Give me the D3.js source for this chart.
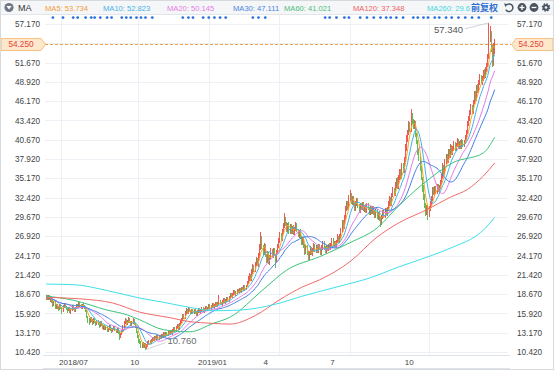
<!DOCTYPE html>
<html><head><meta charset="utf-8">
<script src="https://cdn.jsdelivr.net/npm/d3@7"></script>
<style>
html,body{margin:0;padding:0;background:#fff;}
svg{display:block;}
</style></head><body>
<svg id="c" width="554" height="370"></svg>
<script>
// ---------------- data ----------------
const opens = [
18.1,18.4,18.0,18.5,17.8,18.1,17.7,17.1,17.6,16.8,
17.2,16.9,16.5,17.1,16.8,16.2,16.8,17.3,16.9,16.7,
16.3,16.8,16.1,16.4,17.0,16.7,16.2,16.7,17.2,16.8,
17.4,17.1,16.7,17.3,17.0,16.7,16.3,15.5,15.1,14.7,
15.3,15.0,14.5,15.1,14.8,14.3,14.9,14.6,14.1,14.7,
14.3,13.8,14.2,13.6,14.0,13.4,13.7,14.1,13.7,13.3,
13.6,14.0,13.6,13.2,13.7,13.3,12.6,12.9,13.4,14.0,
14.6,15.0,14.4,14.7,15.2,14.8,14.2,14.5,15.0,14.5,
14.0,13.2,12.7,12.0,11.9,11.2,11.7,11.1,11.6,10.9,
11.4,11.7,12.1,11.6,12.0,12.5,12.1,12.6,12.2,12.7,
12.3,12.8,12.4,12.9,12.5,13.1,12.7,13.2,12.8,13.3,
12.9,13.4,13.0,13.4,13.9,13.3,13.8,14.3,13.7,14.3,
14.7,15.0,15.7,15.2,15.9,16.5,16.0,16.6,16.3,15.9,
16.4,16.0,16.5,16.1,15.7,16.1,16.6,16.0,16.2,16.7,
16.1,16.4,16.9,16.3,16.6,17.1,16.5,16.8,17.3,16.7,
17.0,17.5,16.9,17.2,17.8,17.5,17.1,17.5,18.0,17.4,
17.7,18.2,17.7,18.1,18.7,18.2,18.6,19.1,18.5,18.8,
19.3,18.9,19.5,19.0,19.6,19.2,19.8,19.3,19.8,20.2,
20.8,21.5,20.7,21.8,22.6,21.9,22.9,23.7,22.8,24.0,
25.2,26.7,25.5,24.5,25.6,24.2,23.4,24.5,23.1,23.9,
24.9,24.0,25.1,24.2,23.5,24.6,25.4,26.3,27.2,26.4,
27.5,28.3,29.4,28.7,27.7,28.6,27.5,28.4,27.4,28.2,
27.3,27.9,28.6,27.8,26.9,27.7,26.9,25.8,26.6,25.6,
24.6,25.4,24.6,23.8,24.5,25.3,24.3,24.9,25.7,24.8,
25.5,24.7,25.6,25.2,24.5,25.2,26.0,25.3,24.7,25.5,
24.9,25.7,25.1,25.7,26.4,25.6,26.1,25.4,26.0,26.9,
26.1,26.9,27.7,29.0,28.2,29.5,30.7,31.6,30.9,32.2,
32.9,31.7,32.4,31.6,30.7,31.5,32.2,31.3,30.5,31.5,
30.8,31.6,30.6,31.3,30.4,31.4,30.9,30.1,31.0,30.3,
31.1,30.4,29.7,30.6,29.5,30.3,29.5,28.8,29.6,30.5,
29.7,30.7,30.0,30.8,31.5,32.3,31.4,32.7,33.6,32.8,
34.1,34.9,33.9,35.2,36.2,35.3,37.1,36.2,37.7,39.4,
40.7,41.5,42.9,42.0,44.1,43.3,42.4,43.2,41.3,40.4,
38.9,38.1,36.6,35.1,33.7,32.6,31.3,30.3,31.1,30.0,
30.7,31.5,32.2,33.6,32.9,33.9,33.1,34.1,33.3,33.8,
34.5,35.3,36.9,35.9,37.4,38.4,37.5,39.1,38.3,39.7,
38.7,39.3,40.2,39.2,39.8,40.6,39.6,40.3,39.5,40.5,
39.8,40.2,40.8,41.7,42.8,43.5,44.4,45.4,44.5,45.9,
47.3,46.4,48.2,47.5,48.7,49.7,48.8,49.3,50.3,49.7,
50.5,51.3,52.5,55.4,55.9,53.7,51.5,53.3];

const highs = [
18.6,18.5,18.6,18.6,18.2,18.2,17.8,17.7,17.7,17.3,
17.3,17.0,17.2,17.2,16.9,17.1,17.4,17.4,17.0,16.8,
16.9,16.9,16.7,17.1,17.1,16.8,16.9,17.3,17.3,17.5,
17.5,17.2,17.3,17.4,17.1,16.8,16.4,15.6,15.3,15.4,
15.4,15.1,15.2,15.2,14.9,15.0,15.0,14.7,14.8,14.8,
14.4,14.3,14.3,14.1,14.1,13.9,14.2,14.2,13.8,13.9,
14.1,14.1,13.7,13.8,13.8,13.4,13.1,13.6,14.2,14.9,
15.3,15.1,15.0,15.4,15.3,14.9,14.8,15.2,15.1,14.6,
14.1,13.4,12.8,12.3,12.0,11.8,11.8,11.7,11.7,11.6,
12.0,12.2,12.2,12.3,12.6,12.6,12.7,12.7,12.8,12.8,
12.9,12.9,13.0,13.0,13.2,13.2,13.3,13.3,13.4,13.4,
13.5,13.5,13.7,14.0,14.0,14.1,14.4,14.4,14.6,15.0,
15.3,15.9,15.8,16.2,16.7,16.6,16.8,16.7,16.4,16.5,
16.5,16.6,16.6,16.2,16.4,16.7,16.7,16.5,16.8,16.8,
16.7,17.0,17.0,16.9,17.2,17.2,17.1,17.4,17.4,17.3,
17.6,17.6,17.5,18.5,17.9,17.6,17.8,18.1,18.1,18.0,
18.3,18.3,18.4,18.8,18.8,18.9,19.2,19.2,19.1,19.4,
19.4,19.6,19.6,19.7,19.7,19.9,19.9,20.0,20.5,21.2,
21.7,21.6,22.2,22.9,22.8,23.3,24.0,23.8,24.5,25.8,
27.5,26.9,25.7,25.9,25.8,24.4,24.8,24.7,24.3,25.2,
25.1,25.3,25.3,24.4,24.9,25.8,26.7,27.5,27.4,28.0,
28.8,30.2,29.6,28.9,28.8,28.9,28.6,28.6,28.4,28.5,
28.3,28.9,28.8,28.0,27.8,27.9,27.0,26.8,26.8,25.8,
25.6,25.6,24.8,24.8,25.5,25.4,25.2,25.9,25.8,25.7,
25.6,25.8,25.8,25.3,25.6,26.3,26.2,25.5,25.7,25.7,
25.8,25.9,26.0,26.6,26.6,26.3,26.3,26.4,27.2,27.0,
27.3,28.1,29.3,29.2,29.9,31.2,32.0,31.9,32.8,33.5,
33.1,32.6,32.7,31.8,31.9,32.4,32.4,31.5,31.7,31.7,
31.8,31.8,31.4,31.5,31.6,31.6,31.1,31.2,31.2,31.3,
31.2,30.6,30.8,30.8,30.4,30.5,29.7,29.9,30.7,30.7,
30.9,30.9,31.1,31.9,32.6,32.5,33.1,33.9,33.8,34.6,
35.2,35.3,35.6,36.5,36.5,37.4,37.4,38.2,40.0,41.3,
42.0,43.3,43.2,45.0,44.5,43.6,43.5,43.4,41.6,40.7,
39.3,38.6,37.0,35.4,34.2,32.9,31.6,31.4,31.5,31.2,
31.9,32.6,33.9,33.9,34.1,34.1,34.3,34.3,34.2,34.9,
35.8,37.3,37.1,37.9,38.7,38.6,39.4,39.3,40.0,39.9,
39.8,40.5,40.4,40.2,40.9,40.8,40.5,40.6,40.8,40.7,
40.6,41.3,42.1,43.3,44.0,44.9,45.8,45.6,46.4,47.6,
47.6,48.5,48.6,49.2,50.0,49.9,49.8,50.6,50.7,51.0,
51.6,52.9,57.34,56.9,56.2,54.2,54.5,55.1];

const lows = [
17.9,17.9,17.8,17.8,17.6,17.4,16.9,17.0,16.6,16.6,
16.6,16.2,16.4,16.5,15.9,16.1,16.7,16.7,16.4,16.0,
16.2,16.0,15.9,16.3,16.4,16.1,16.1,16.6,16.7,16.7,
16.9,16.6,16.6,16.8,16.5,16.1,15.2,14.6,14.2,14.6,
14.7,14.3,14.4,14.5,14.1,14.2,14.3,13.9,14.0,14.1,
13.7,13.6,13.5,13.5,13.3,13.3,13.6,13.4,13.1,13.2,
13.5,13.4,13.1,13.1,13.0,12.1,12.4,12.8,13.3,13.9,
14.4,14.3,14.3,14.6,14.5,14.1,14.1,14.4,14.2,13.8,
13.1,12.4,11.7,11.5,11.0,11.0,11.0,11.0,10.76,10.8,
11.2,11.5,11.5,11.5,11.9,12.0,12.0,12.1,12.1,12.2,
12.2,12.3,12.3,12.4,12.4,12.6,12.6,12.7,12.7,12.8,
12.8,13.0,12.9,13.3,13.2,13.2,13.7,13.6,13.6,14.2,
14.6,14.9,15.1,15.1,15.8,15.9,15.9,16.1,15.8,15.8,
15.9,15.9,15.9,15.6,15.6,16.0,16.0,15.9,16.1,16.1,
16.0,16.3,16.3,16.2,16.5,16.5,16.4,16.7,16.7,16.6,
16.9,16.9,16.8,17.1,17.3,17.1,17.0,17.4,17.4,17.3,
17.6,17.7,17.6,18.0,18.2,18.1,18.5,18.5,18.4,18.7,
18.8,18.8,19.0,18.9,19.2,19.1,19.3,19.2,19.7,20.1,
20.6,20.6,20.5,21.6,21.8,21.8,22.7,22.7,22.6,23.8,
25.0,25.1,24.2,24.2,24.0,23.1,23.1,22.9,22.8,23.7,
23.9,23.8,24.1,22.4,23.3,24.4,25.2,26.0,26.2,26.2,
27.3,28.1,28.4,27.5,27.5,27.3,27.3,27.2,27.2,27.1,
27.1,27.7,27.5,26.8,26.7,26.5,25.6,25.6,25.2,24.3,
24.4,24.3,23.5,23.6,24.3,24.2,24.1,24.7,24.7,24.6,
24.5,24.5,24.9,24.3,24.3,25.0,25.0,24.5,24.5,24.8,
24.8,25.0,24.9,25.5,25.5,25.4,25.3,25.3,25.9,26.0,
26.0,26.7,27.5,28.0,28.0,29.3,30.5,30.7,30.6,31.9,
31.5,31.4,31.2,30.5,30.5,31.2,31.0,30.3,30.3,30.6,
30.6,30.5,30.4,30.2,30.2,30.6,29.9,29.9,30.1,30.1,
30.0,29.5,29.5,29.4,29.3,29.1,28.2,28.5,29.4,29.5,
29.5,29.9,29.8,30.6,31.3,31.3,31.2,32.5,32.6,32.6,
33.8,33.7,33.7,34.9,35.0,35.1,36.0,36.0,37.5,39.1,
40.4,41.3,41.8,41.8,42.9,42.2,42.2,41.0,40.0,38.5,
37.6,36.2,34.9,33.2,32.1,30.9,29.8,29.9,29.2,29.6,
30.5,31.3,32.0,32.8,32.7,33.0,32.9,33.2,33.1,33.6,
34.3,35.1,35.7,35.7,37.2,37.3,37.3,38.1,38.1,38.5,
38.5,39.1,39.1,39.0,39.6,39.5,39.4,39.4,39.3,39.7,
39.6,40.0,40.6,41.5,42.6,43.3,44.2,44.3,44.3,45.7,
46.2,46.2,47.3,47.3,48.5,48.6,48.5,49.1,49.4,49.5,
50.3,51.0,52.2,54.6,53.2,51.0,51.2,52.9];

const closes = [
18.3,18.1,18.4,17.9,18.0,17.6,17.2,17.5,16.9,17.1,
16.8,16.5,17.0,16.7,16.3,16.9,17.2,16.8,16.6,16.4,
16.7,16.2,16.5,16.9,16.6,16.3,16.8,17.1,16.9,17.3,
17.0,16.8,17.2,16.9,16.6,16.2,15.4,15.0,14.8,15.2,
14.9,14.6,15.0,14.7,14.4,14.8,14.5,14.2,14.6,14.3,
13.9,14.1,13.7,13.9,13.5,13.8,14.0,13.6,13.4,13.7,
13.9,13.5,13.3,13.6,13.2,12.8,12.9,13.4,14.0,14.6,
14.9,14.5,14.8,15.1,14.7,14.3,14.6,14.9,14.4,14.0,
13.3,12.6,12.0,11.8,11.3,11.6,11.2,11.5,11.0,11.4,
11.8,12.0,11.7,12.1,12.4,12.2,12.5,12.3,12.6,12.4,
12.7,12.5,12.8,12.6,13.0,12.8,13.1,12.9,13.2,13.0,
13.3,13.1,13.5,13.8,13.4,13.9,14.2,13.8,14.4,14.7,
15.1,15.6,15.3,16.0,16.4,16.1,16.5,16.2,16.0,16.3,
16.1,16.4,16.0,15.8,16.2,16.5,16.1,16.3,16.6,16.2,
16.5,16.8,16.4,16.7,17.0,16.6,16.9,17.2,16.8,17.1,
17.4,17.0,17.3,17.7,17.4,17.2,17.6,17.9,17.5,17.8,
18.1,17.8,18.2,18.6,18.3,18.7,19.0,18.6,18.9,19.2,
19.0,19.4,19.1,19.5,19.3,19.7,19.4,19.8,20.3,20.9,
21.4,20.8,21.9,22.5,22.0,23.0,23.6,22.9,24.2,25.3,
26.6,25.4,24.6,25.5,24.3,23.5,24.4,23.2,24.0,24.8,
24.1,25.0,24.3,23.6,24.7,25.5,26.4,27.1,26.5,27.6,
28.4,29.3,28.6,27.8,28.5,27.6,28.3,27.5,28.1,27.4,
28.0,28.5,27.7,27.0,27.6,26.8,25.9,26.5,25.5,24.7,
25.3,24.5,23.9,24.6,25.2,24.4,25.0,25.6,24.9,25.4,
24.8,25.5,25.1,24.6,25.3,25.9,25.2,24.8,25.4,25.0,
25.6,25.2,25.8,26.3,25.7,26.0,25.5,26.1,26.8,26.2,
27.0,27.8,28.9,28.3,29.6,30.8,31.5,31.0,32.4,33.0,
31.8,32.3,31.5,30.8,31.6,32.1,31.2,30.6,31.4,30.9,
31.5,30.7,31.2,30.5,31.3,30.8,30.2,30.9,30.4,31.0,
30.3,29.8,30.5,29.6,30.2,29.4,28.9,29.7,30.4,29.8,
30.6,30.1,30.9,31.6,32.2,31.5,32.8,33.5,32.9,34.2,
34.8,34.0,35.3,36.1,35.4,37.0,36.3,37.8,39.5,40.8,
41.6,42.8,42.1,44.0,43.2,42.5,43.1,41.2,40.3,38.8,
38.0,36.5,35.2,33.6,32.5,31.2,30.4,31.0,30.1,30.8,
31.6,32.3,33.5,33.0,33.8,33.2,34.0,33.4,33.9,34.6,
35.4,36.8,36.0,37.5,38.3,37.6,39.0,38.4,39.6,38.8,
39.4,40.1,39.3,39.9,40.5,39.7,40.2,39.6,40.4,39.9,
40.3,40.9,41.8,42.9,43.6,44.5,45.3,44.6,46.0,47.2,
46.5,48.1,47.6,48.8,49.6,48.9,49.4,50.2,49.8,50.6,
51.2,52.4,55.5,55.8,53.6,51.6,53.4,54.25];

// long moving averages (candle index -> value)
const ma60Idx  = [0,24,54,72,83,104,127,148,163,192,213,242,269,293,313,340,360,387,397];
const ma60Val  = [18.4,17.8,16.4,15.7,15.0,13.6,13.3,14.5,15.4,19.3,22.1,24.0,26.0,28.1,31.4,35.2,37.4,38.8,41.02];
const ma120Idx = [0,30,59,83,110,125,148,163,185,207,227,242,269,293,313,337,358,373,387,397];
const ma120Val = [18.2,18.0,17.4,16.1,15.3,14.8,14.5,14.4,15.6,17.9,19.7,20.7,23.3,26.8,28.9,30.7,32.5,33.6,35.5,37.35];
const ma260Idx = [0,26,48,83,104,130,148,172,207,225,260,287,313,340,362,380,389,397];
const ma260Val = [20.1,20.0,19.4,18.1,17.5,16.7,16.3,16.4,17.4,18.3,19.8,21.0,22.6,24.1,25.5,26.9,28.1,29.6];

const maNames   = ["MA5","MA10","MA20","MA30","MA60","MA120","MA260"];
const maLegend  = ["53.734","52.823","50.145","47.111","41.021","37.348","29.6"];
const maColors  = ["#f5a623","#3db5ea","#e27ae6","#3f80e2","#3cc37a","#f26a6a","#3fe0ea"];
const maText    = ["#f29c38","#4ab3e6","#e57ce5","#4a86df","#4dbd7e","#ef6363","#45d6df"];

const yTicks = [10.42,13.17,15.92,18.67,21.42,24.17,26.92,29.67,32.42,35.17,37.92,40.67,43.42,46.17,48.92,51.67,54.42,57.17];
const xTickIdx = [12,75,135,193,252,318];
const xTickLabels = ["2018/07","10","2019/01","4","7","10"];
const gridIdx = [13,81,144,206,269,339];
const eventIdx = [6,15,24,28,35,40,43,48,54,58,67,71,75,80,84,88,94,121,126,130,139,144,149,154,159,183,188,194,
  247,251,257,264,268,278,284,290,296,301,305,310,316,325,329,334,338,344,348,354,359,365,371,377,383,394];
const lastPrice = 54.25;
const maxPt = {idx:392, val:57.34};
const minPt = {idx:88, val:10.76};

// ---------------- drawing ----------------
const FONT = '"Liberation Sans", Arial, sans-serif';
const W = 554, H = 370;
const svg = d3.select("#c").attr("font-family", FONT);
const N = closes.length;
const x = d3.scaleBand().domain(d3.range(N)).range([45.5, 495.2]).paddingInner(0);
const cx = i => x(i) + x.bandwidth()/2;
const y = d3.scaleLinear().domain([10.42, 57.17]).range([352, 24]);

svg.append("rect").attr("width", W).attr("height", H).attr("fill", "#fff");

// header bar
svg.append("rect").attr("x",0).attr("y",0).attr("width",W).attr("height",14.5).attr("fill","#f5f6f8");
svg.append("line").attr("x1",0).attr("x2",W).attr("y1",14.5).attr("y2",14.5).attr("stroke","#e2e5e9");

// grid
const grid = svg.append("g").attr("stroke","#edf0f4").attr("stroke-width",1).attr("shape-rendering","crispEdges");
grid.selectAll("line.h").data(yTicks).join("line").attr("class","h")
  .attr("x1",45).attr("x2",508).attr("y1",d=>Math.round(y(d))+0.5).attr("y2",d=>Math.round(y(d))+0.5);
grid.selectAll("line.v").data(gridIdx).join("line").attr("class","v")
  .attr("x1",d=>Math.round(cx(d))+0.5).attr("x2",d=>Math.round(cx(d))+0.5).attr("y1",15).attr("y2",355);

// axes (the tick hidden behind the last-price tag is not labelled)
const shown = yTicks.filter(v => Math.abs(v - lastPrice) > 1);
const axL = d3.axisLeft(y).tickValues(shown).tickSize(0).tickPadding(0).tickFormat(d3.format(".3f"));
const axR = d3.axisRight(y).tickValues(shown).tickSize(0).tickPadding(0).tickFormat(d3.format(".3f"));
svg.append("g").attr("transform","translate(40,0)").call(axL)
  .call(g=>g.select(".domain").remove())
  .attr("font-family",FONT).attr("font-size",8.2)
  .selectAll("text").attr("fill","#444");
svg.append("g").attr("transform","translate(517,0)").call(axR)
  .call(g=>g.select(".domain").remove())
  .attr("font-family",FONT).attr("font-size",8.2)
  .selectAll("text").attr("fill","#444");

// x axis band
svg.append("line").attr("x1",43).attr("x2",510).attr("y1",355.5).attr("y2",355.5).attr("stroke","#dfe3e8");
svg.append("line").attr("x1",43).attr("x2",510).attr("y1",368.5).attr("y2",368.5).attr("stroke","#dfe3e8");
svg.selectAll("text.xl").data(xTickIdx).join("text").attr("class","xl")
  .attr("x",d=>x(d)).attr("y",365).attr("font-size",8).attr("fill","#444")
  .text((d,i)=>xTickLabels[i]);

// candles
const up = i => closes[i] >= opens[i];
const colUp = "#f35656", colDn = "#66bd55";
const cg = svg.append("g").attr("shape-rendering","crispEdges");
cg.selectAll("line").data(d3.range(N)).join("line")
  .attr("x1",i=>Math.floor(cx(i))+0.5).attr("x2",i=>Math.floor(cx(i))+0.5)
  .attr("y1",i=>y(highs[i])).attr("y2",i=>y(lows[i]))
  .attr("stroke",i=>up(i)?colUp:colDn).attr("stroke-width",1);
cg.selectAll("rect").data(d3.range(N)).join("rect")
  .attr("x",i=>Math.floor(cx(i))).attr("width",1.3)
  .attr("y",i=>y(Math.max(opens[i],closes[i])))
  .attr("height",i=>Math.max(1, y(Math.min(opens[i],closes[i])) - y(Math.max(opens[i],closes[i]))))
  .attr("fill",i=>up(i)?colUp:colDn);

// moving averages
function ma(n){ return closes.map((c,i)=>d3.mean(closes.slice(Math.max(0,i-n+1), i+1))); }
const shortMA = [ma(5), ma(10), ma(20), ma(30)];
const lineIdx = d3.line().x((d,i)=>cx(i)).y(d=>y(d));
const mg = svg.append("g").attr("fill","none").attr("stroke-width",1);
shortMA.forEach((arr,k)=>{
  mg.append("path").attr("d", lineIdx(arr)).attr("stroke", maColors[k]);
});
const longs = [[ma60Idx,ma60Val],[ma120Idx,ma120Val],[ma260Idx,ma260Val]];
const lineS = d3.line().x(d=>cx(d[0])).y(d=>y(d[1])).curve(d3.curveMonotoneX);
longs.forEach((p,k)=>{
  mg.append("path").attr("d", lineS(d3.zip(p[0],p[1]))).attr("stroke", maColors[4+k]);
});

// last price line
const yp = y(lastPrice);
svg.append("line").attr("x1",45).attr("x2",511).attr("y1",yp).attr("y2",yp)
  .attr("stroke","#f0a040").attr("stroke-width",1).attr("stroke-dasharray","3,2");
svg.append("path").attr("d",`M1,${yp-6}H41L45.5,${yp}L41,${yp+6}H1Z`)
  .attr("fill","#fde8cc").attr("stroke","#f2b26a").attr("stroke-width",0.8);
svg.append("text").attr("x",21).attr("y",yp+3).attr("text-anchor","middle")
  .attr("font-size",8.2).attr("fill","#e8403a").text(lastPrice.toFixed(3));
svg.append("path").attr("d",`M553,${yp-6}H516L511.5,${yp}L516,${yp+6}H553Z`)
  .attr("fill","#fde8cc").attr("stroke","#f2b26a").attr("stroke-width",0.8);
svg.append("text").attr("x",531).attr("y",yp+3).attr("text-anchor","middle")
  .attr("font-size",8.2).attr("fill","#e8403a").text(lastPrice.toFixed(3));

// max / min annotations
const mx = cx(maxPt.idx), my = y(maxPt.val);
svg.append("line").attr("x1",mx).attr("y1",my).attr("x2",465).attr("y2",my+6).attr("stroke","#c4c8cc").attr("stroke-width",0.8);
svg.append("text").attr("x",463).attr("y",my+10).attr("text-anchor","end").attr("font-size",9.5).attr("fill","#555").text(maxPt.val.toFixed(3));
const nx = cx(minPt.idx), ny = y(minPt.val);
svg.append("line").attr("x1",nx).attr("y1",ny).attr("x2",nx+20).attr("y2",ny-7).attr("stroke","#c4c8cc").attr("stroke-width",0.8);
svg.append("text").attr("x",nx+22).attr("y",ny-6).attr("font-size",9.5).attr("fill","#6a6f75").text(minPt.val.toFixed(3));

// event dots
svg.selectAll("circle.ev").data(eventIdx).join("circle").attr("class","ev")
  .attr("cx",d=>cx(d)).attr("cy",17.6).attr("r",1.4).attr("fill","#2e72de");

// header legend
svg.append("circle").attr("cx",9).attr("cy",7.5).attr("r",4.6).attr("fill","#6e7884");
svg.append("path").attr("d","M6.4,6 L11.6,6 L9,9.6 Z").attr("fill","#fff");
svg.append("text").attr("x",18).attr("y",10.6).attr("font-size",9).attr("fill","#333").text("MA");
const legX = [45,103,167,233,284,353,427];
maNames.forEach((n,k)=>{
  svg.append("text").attr("x",legX[k]).attr("y",10.6).attr("font-size",7.6).attr("fill",maText[k])
    .text(n+": "+maLegend[k]);
});
svg.append("text").attr("x",471).attr("y",11.2).attr("font-size",9).attr("font-weight","bold")
  .attr("font-family",'"Noto Sans CJK SC", sans-serif').attr("fill","#2d6fd1").text("前复权");
// toolbar icons
const ic = "#4a5562";
svg.append("path").attr("d","M506.2,5.2 A3.8,3.8 0 1 1 505.8,9.6").attr("fill","none").attr("stroke",ic).attr("stroke-width",1.5);
svg.append("path").attr("d","M504.2,3.2 L507.6,4.2 L505.2,7.0 Z").attr("fill",ic);
[[522,"+"],[534,"-"]].forEach(([c,s])=>{
  svg.append("circle").attr("cx",c).attr("cy",7.5).attr("r",4.4).attr("fill",ic);
  svg.append("line").attr("x1",c-2.4).attr("x2",c+2.4).attr("y1",7.5).attr("y2",7.5).attr("stroke","#fff").attr("stroke-width",1.3);
  if(s==="+") svg.append("line").attr("x1",c).attr("x2",c).attr("y1",5.1).attr("y2",9.9).attr("stroke","#fff").attr("stroke-width",1.3);
});
svg.append("circle").attr("cx",546).attr("cy",7.5).attr("r",3.2).attr("fill",ic).attr("stroke",ic).attr("stroke-width",2.2).attr("stroke-dasharray","1.4,1.1");
svg.append("circle").attr("cx",546).attr("cy",7.5).attr("r",1.3).attr("fill","#f5f6f8");

// outer border
svg.append("rect").attr("x",0.5).attr("y",0.5).attr("width",W-1).attr("height",H-1).attr("fill","none").attr("stroke","#d6d9dd");
</script>
</body></html>
